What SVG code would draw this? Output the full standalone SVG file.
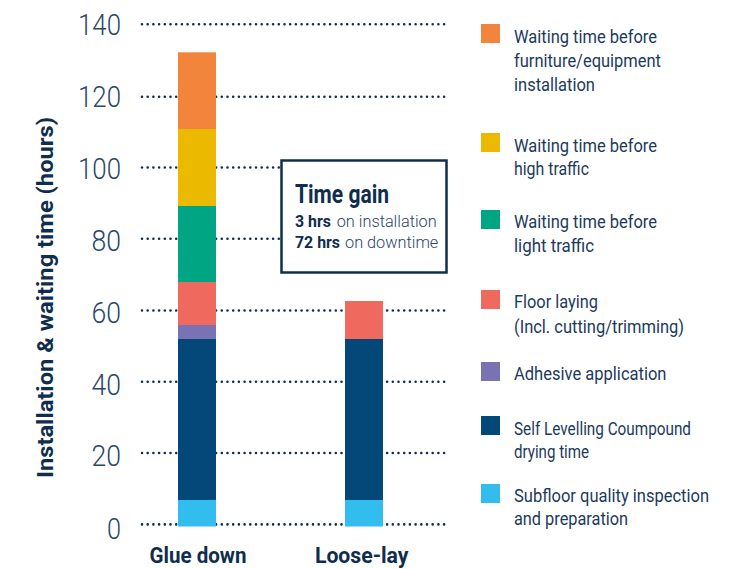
<svg xmlns="http://www.w3.org/2000/svg" width="739" height="569" viewBox="0 0 739 569">
<style>
text{font-family:"Roboto","Liberation Sans",sans-serif}
.grid{stroke:#0f2e4e;stroke-width:2.6;stroke-linecap:round;stroke-dasharray:0 5.7;fill:none}
.tick{font-size:30px;font-weight:300;fill:#2a4768;text-anchor:end}
.ttl{font-size:22px;font-weight:700;fill:#0f2e4e}
.cat{font-size:22px;font-weight:700;fill:#0f2e4e}
.leg{font-size:18px;font-weight:400;fill:#1c3a5c}
.bx{fill:#fff;stroke:#0f2e4e;stroke-width:2.5}
.gt{font-size:25px;font-weight:700;fill:#0f2e4e}
.gb{font-size:17px;font-weight:700;fill:#0f2e4e}
.gl{font-size:17px;font-weight:300;fill:#2a4768}
.c1{fill:#f2843c}.c2{fill:#ebb900}.c3{fill:#00a683}.c4{fill:#ef695e}.c5{fill:#7a73b3}.c6{fill:#034878}.c7{fill:#33bcee}
</style>
<g id="axis">
<g id="gridlines">
<line class="grid" x1="142" y1="24.3" x2="448" y2="24.3"/>
<line class="grid" x1="142" y1="96.7" x2="448" y2="96.7"/>
<line class="grid" x1="142" y1="167.5" x2="448" y2="167.5"/>
<line class="grid" x1="142" y1="238.8" x2="448" y2="238.8"/>
<line class="grid" x1="142" y1="310.5" x2="448" y2="310.5"/>
<line class="grid" x1="142" y1="381.8" x2="448" y2="381.8"/>
<line class="grid" x1="142" y1="453" x2="448" y2="453"/>
<line class="grid" x1="142" y1="524.4" x2="448" y2="524.4"/>
</g>
<text class="tick" x="121" y="35" textLength="43" lengthAdjust="spacingAndGlyphs">140</text>
<text class="tick" x="121" y="107" textLength="43" lengthAdjust="spacingAndGlyphs">120</text>
<text class="tick" x="121" y="179" textLength="43" lengthAdjust="spacingAndGlyphs">100</text>
<text class="tick" x="121" y="250.7" textLength="29.5" lengthAdjust="spacingAndGlyphs">80</text>
<text class="tick" x="121" y="322.7" textLength="29.5" lengthAdjust="spacingAndGlyphs">60</text>
<text class="tick" x="121" y="395" textLength="29.5" lengthAdjust="spacingAndGlyphs">40</text>
<text class="tick" x="121" y="466" textLength="29.5" lengthAdjust="spacingAndGlyphs">20</text>
<text class="tick" x="121" y="539" textLength="14" lengthAdjust="spacingAndGlyphs">0</text>
<text class="ttl" transform="translate(53,297.5) rotate(-90)" x="0" y="0" text-anchor="middle" textLength="361" lengthAdjust="spacingAndGlyphs">Installation &amp; waiting time (hours)</text>
</g>
<g id="bar-glue-down">
<rect class="c1" x="178" y="52.3" width="38" height="77"/>
<rect class="c2" x="178" y="129" width="38" height="77"/>
<rect class="c3" x="178" y="206" width="38" height="76"/>
<rect class="c4" x="178" y="282" width="38" height="43"/>
<rect class="c5" x="178" y="325" width="38" height="14"/>
<rect class="c6" x="178" y="339" width="38" height="161"/>
<rect class="c7" x="178" y="500" width="38" height="26.5"/>
<text class="cat" x="198" y="563" text-anchor="middle" textLength="97" lengthAdjust="spacingAndGlyphs">Glue down</text>
</g>
<g id="bar-loose-lay">
<rect class="c4" x="345" y="301" width="38" height="38"/>
<rect class="c6" x="345" y="339" width="38" height="161"/>
<rect class="c7" x="345" y="500" width="38" height="26.5"/>
<text class="cat" x="361.7" y="563" text-anchor="middle" textLength="93.5" lengthAdjust="spacingAndGlyphs">Loose-lay</text>
</g>
<g id="time-gain">
<rect class="bx" x="281.5" y="160.5" width="165" height="112"/>
<text class="gt" x="295" y="203" textLength="94" lengthAdjust="spacingAndGlyphs">Time gain</text>
<text class="gb" x="295" y="226.7" textLength="36" lengthAdjust="spacingAndGlyphs">3 hrs</text>
<text class="gl" x="336.7" y="226.7" textLength="100" lengthAdjust="spacingAndGlyphs">on installation</text>
<text class="gb" x="295" y="247.7" textLength="45" lengthAdjust="spacingAndGlyphs">72 hrs</text>
<text class="gl" x="345" y="247.7" textLength="93.3" lengthAdjust="spacingAndGlyphs">on downtime</text>
</g>
<g id="legend">
<g id="leg-furniture">
<rect class="c1" x="481" y="24" width="19" height="19"/>
<text class="leg" x="514" y="43" textLength="143" lengthAdjust="spacingAndGlyphs">Waiting time before</text>
<text class="leg" x="514" y="67" textLength="147" lengthAdjust="spacingAndGlyphs">furniture/equipment</text>
<text class="leg" x="514" y="91" textLength="81" lengthAdjust="spacingAndGlyphs">installation</text>
</g>
<g id="leg-high">
<rect class="c2" x="481" y="133" width="19" height="19"/>
<text class="leg" x="514" y="151.7" textLength="143" lengthAdjust="spacingAndGlyphs">Waiting time before</text>
<text class="leg" x="514" y="175" textLength="75" lengthAdjust="spacingAndGlyphs">high traffic</text>
</g>
<g id="leg-light">
<rect class="c3" x="481" y="210" width="19" height="19"/>
<text class="leg" x="514" y="228" textLength="143" lengthAdjust="spacingAndGlyphs">Waiting time before</text>
<text class="leg" x="514" y="251.7" textLength="80" lengthAdjust="spacingAndGlyphs">light traffic</text>
</g>
<g id="leg-floor">
<rect class="c4" x="481" y="290" width="19" height="19"/>
<text class="leg" x="514" y="308" textLength="84" lengthAdjust="spacingAndGlyphs">Floor laying</text>
<text class="leg" x="514" y="333" textLength="170" lengthAdjust="spacingAndGlyphs">(Incl. cutting/trimming)</text>
</g>
<g id="leg-adhesive">
<rect class="c5" x="481" y="362" width="19" height="19"/>
<text class="leg" x="514" y="380" textLength="152.5" lengthAdjust="spacingAndGlyphs">Adhesive application</text>
</g>
<g id="leg-slc">
<rect class="c6" x="481" y="416" width="19" height="19"/>
<text class="leg" x="514" y="435" textLength="177" lengthAdjust="spacingAndGlyphs">Self Levelling Coumpound</text>
<text class="leg" x="514" y="458" textLength="75" lengthAdjust="spacingAndGlyphs">drying time</text>
</g>
<g id="leg-subfloor">
<rect class="c7" x="481" y="484" width="19" height="19"/>
<text class="leg" x="514" y="501.7" textLength="195" lengthAdjust="spacingAndGlyphs">Subfloor quality inspection</text>
<text class="leg" x="514" y="525" textLength="114" lengthAdjust="spacingAndGlyphs">and preparation</text>
</g>
</g>
</svg>
